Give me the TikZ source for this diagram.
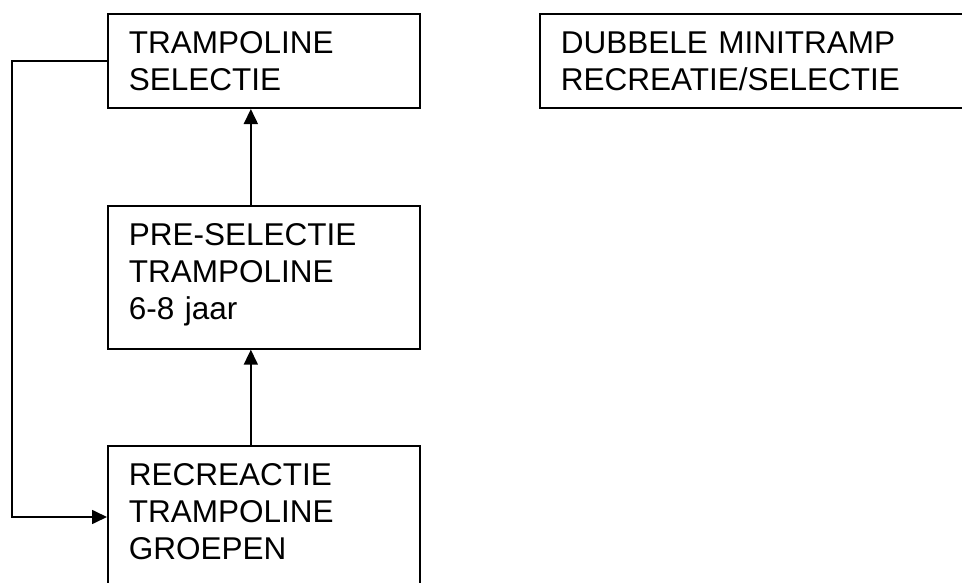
\documentclass[tikz,border=0pt]{standalone}
\usepackage{fontspec}
\setmainfont{Liberation Sans}
\usetikzlibrary{arrows.meta}

\begin{document}
\begin{tikzpicture}[x=1pt,y=-1pt,
    blok/.style={draw,line width=1.7pt,anchor=north west,align=left,
      inner xsep=21pt,inner ysep=17.5pt,
      font=\fontsize{31.5}{37}\selectfont},
    pijl/.style={line width=1.7pt,-{Triangle[length=15pt,width=14pt]}}]
  \useasboundingbox (0,0) rectangle (962,583);
  \node[blok,text width=270pt] (selectie) at (107,13) {TRAMPOLINE\\SELECTIE};
  \node[blok,text width=450pt] (minitramp) at (539,13) {DUBBELE MINITRAMP\\RECREATIE/SELECTIE};
  \node[blok,text width=270pt,text depth=86pt] (preselectie) at (107,205) {PRE-SELECTIE\\TRAMPOLINE\\6-8 jaar};
  \node[blok,text width=270pt,text depth=140pt] (recreatie) at (107,445) {RECREACTIE\\TRAMPOLINE\\GROEPEN};
  \draw[pijl] ([xshift=-13pt]preselectie.north) -- ([xshift=-13pt]selectie.south);
  \draw[pijl] ([xshift=-13pt]recreatie.north) -- ([xshift=-13pt]preselectie.south);
  \draw[pijl] (selectie.west) -- ++(-95,0) |- ([yshift=-72pt]recreatie.north west);
  %\draw (minitramp.south) -- ++(0,20);
\end{tikzpicture}
\end{document}
